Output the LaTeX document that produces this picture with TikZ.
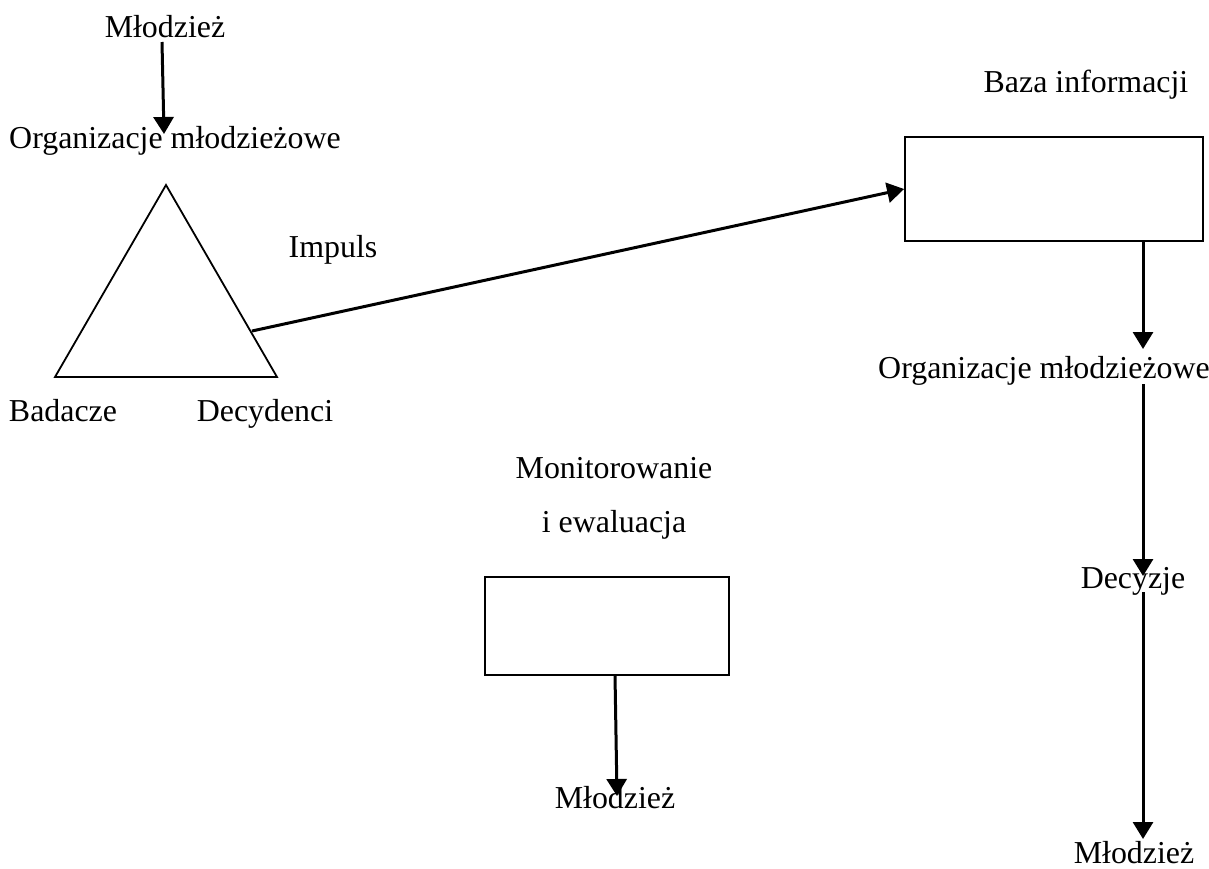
\documentclass[tikz,border=0pt]{standalone}
\usepackage{fontspec}
\setmainfont{Liberation Serif}
\usetikzlibrary{arrows.meta}
\begin{document}
\begin{tikzpicture}[x=1pt,y=-1pt,
  lbl/.style={anchor=base,inner sep=0pt,font=\fontsize{31.9}{38}\selectfont},
  boxshape/.style={draw,line width=1.8pt},
  arr/.style={line width=3pt,-{Triangle[length=17pt,width=20pt]}}]
\useasboundingbox (0,0) rectangle (1209,868);
% left group
\node[lbl] (m1) at (165,37) {Młodzież};
\node[lbl] (o1) at (175,148) {Organizacje młodzieżowe};
\coordinate (tA) at (166,185);
\coordinate (tB) at (55,377);
\coordinate (tC) at (277,377);
\draw[line width=1.8pt,line join=miter] (tA) -- (tB) -- (tC) -- cycle;
\node[lbl] (bad) at (63,421) {Badacze};
\node[lbl] (dec) at (265,421) {Decydenci};
\node[lbl] (imp) at (333,257) {Impuls};
% Baza informacji
\node[lbl] (baza) at (1086,92) {Baza informacji};
\node[boxshape,minimum width=298pt,minimum height=104pt,inner sep=0pt] (bx1) at (1054,189) {};
\node[lbl] (o2) at (1044,378) {Organizacje młodzieżowe};
\node[lbl] (dz) at (1133,588) {Decyzje};
\node[lbl] (m3) at (1134,863) {Młodzież};
% Monitorowanie
\node[lbl] (mon) at (614,478) {Monitorowanie};
\node[lbl] (ew) at (614,532) {i ewaluacja};
\node[boxshape,minimum width=244pt,minimum height=98pt,inner sep=0pt] (bx2) at (607,626) {};
\node[lbl] (m2) at (615,808) {Młodzież};
% connectors
\coordinate (s1) at (162,42);
\coordinate (e1) at (164,134);
\draw[arr] (s1) -- (e1);
\coordinate (s2) at (252,331);
\draw[arr] (s2) -- (bx1.west);
\coordinate (s3) at (1143,241);
\coordinate (e3) at (1143,349);
\draw[arr] (s3) -- (e3);
\coordinate (s4) at (1143,384);
\coordinate (e4) at (1143,576);
\draw[arr] (s4) -- (e4);
\coordinate (s5) at (1143,592);
\coordinate (e5) at (1143,839);
\draw[arr] (s5) -- (e5);
\coordinate (s6) at (615,675);
\coordinate (e6) at (617,796);
\draw[arr] (s6) -- (e6);
\end{tikzpicture}
\end{document}
